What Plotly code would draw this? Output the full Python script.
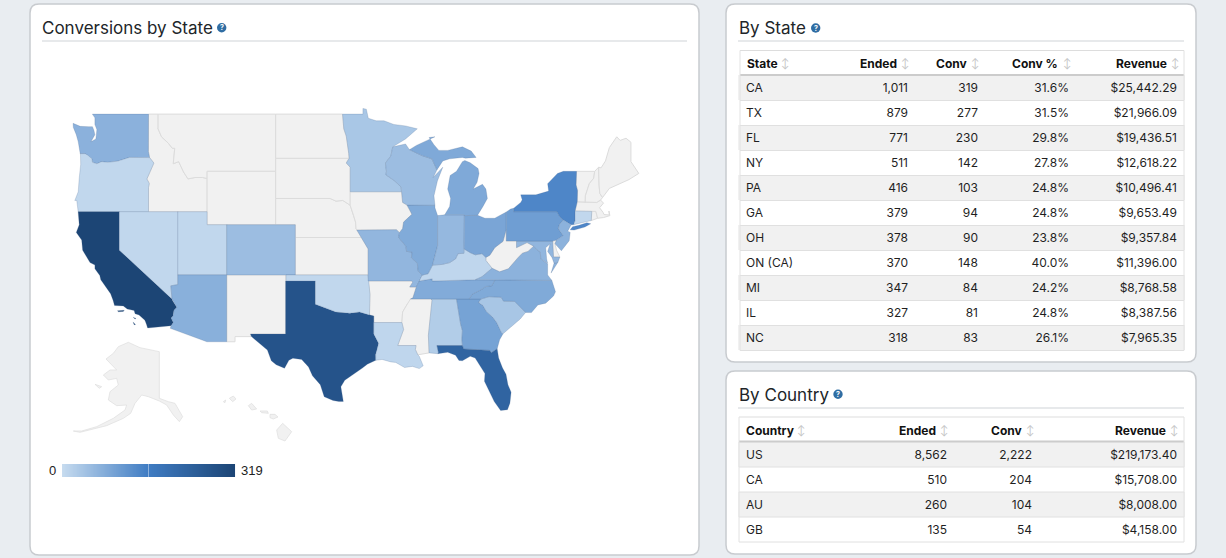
import math

import plotly.graph_objects as go
from plotly.colors import sample_colorscale

# table by state
state_columns = ["State", "Ended", "Conv", "Conv %", "Revenue"]
state_codes = ["CA", "TX", "FL", "NY", "PA", "GA", "OH", "ON (CA)", "MI", "IL", "NC"]
state_ended = [1011, 879, 771, 511, 416, 379, 378, 370, 347, 327, 318]
state_conv = [319, 277, 230, 142, 103, 94, 90, 148, 84, 81, 83]
state_pct = [31.6, 31.5, 29.8, 27.8, 24.8, 24.8, 23.8, 40.0, 24.2, 24.8, 26.1]
state_revenue = [25442.29, 21966.09, 19436.51, 12618.22, 10496.41, 9653.49, 9357.84, 11396.00, 8768.58, 8387.56, 7965.35]

# table by country
country_columns = ["Country", "Ended", "Conv", "Revenue"]
country_codes = ["US", "CA", "AU", "GB"]
country_ended = [8562, 510, 260, 135]
country_conv = [2222, 204, 104, 54]
country_revenue = [219173.40, 15708.00, 8008.00, 4158.00]

# the states below the table are estimated from their shade on the map
map_states = ["CA", "TX", "FL", "NY", "PA", "GA", "OH", "MI", "IL", "NC", "WA", "AZ", "CO", "MN", "WI", "IN",
              "MO", "TN", "VA", "NJ", "MD", "AL", "SC", "OR", "NV", "UT", "OK", "LA", "KY", "CT"]
map_conv = [319, 277, 230, 142, 103, 94, 90, 84, 81, 83, 70, 72, 50, 34, 50, 58,
            62, 80, 68, 68, 62, 24, 36, 6, 6, 6, 6, 8, 8, 6]
legend_values = list(range(0, 320))

COLORSCALE = [[0, "#c6dbef"], [0.5, "#3f7cc3"], [1, "#1c4575"]]
NO_DATA = "#f1f1f1"
FONT = "Inter, Roboto, sans-serif"

# state outlines in lon/lat
OUTLINES = {
    "WA": [[(-122.76, 49), (-117.03, 49), (-117.04, 46.42), (-116.92, 45.99), (-118.98, 46), (-119.3, 45.93), (-120.2, 45.73),
            (-121.2, 45.65), (-121.8, 45.7), (-122.3, 45.55), (-122.75, 45.65), (-122.8, 45.9), (-123.2, 46.15), (-123.5, 46.27),
            (-124, 46.27), (-124.07, 46.7), (-124.1, 46.95), (-124.2, 47.1), (-124.4, 47.6), (-124.7, 48.1), (-124.73, 48.38),
            (-124, 48.17), (-123.1, 48.15), (-122.75, 48.15), (-122.6, 47.9), (-122.5, 47.6), (-122.9, 47.1), (-122.4, 47.3),
            (-122.35, 47.6), (-122.3, 47.95), (-122.5, 48.3), (-122.5, 48.75)]],
    "OR": [[(-124, 46.27), (-123.5, 46.27), (-123.2, 46.15), (-122.8, 45.9), (-122.75, 45.65), (-122.3, 45.55), (-121.8, 45.7),
            (-121.2, 45.65), (-120.2, 45.73), (-119.3, 45.93), (-118.98, 46), (-116.92, 45.99), (-116.48, 45.6), (-116.85, 45),
            (-117.2, 44.44), (-117.03, 44.23), (-116.95, 44.1), (-117.03, 43.83), (-117.03, 42), (-124.21, 42), (-124.35, 42.85),
            (-124.55, 42.84), (-124.2, 43.5), (-124.1, 44.5), (-123.95, 45.5), (-123.97, 46.2)]],
    "CA": [[(-124.21, 42), (-120, 42), (-120, 39), (-114.63, 35), (-114.57, 34.85), (-114.14, 34.3), (-114.43, 34.05), (-114.53, 33.55),
            (-114.72, 33.4), (-114.5, 33), (-114.72, 32.72), (-117.12, 32.53), (-117.25, 32.87), (-117.4, 33.2), (-118, 33.65),
            (-118.4, 33.75), (-118.5, 34.03), (-119.2, 34.15), (-119.6, 34.42), (-120.5, 34.45), (-120.65, 34.9), (-120.9, 35.45),
            (-121.9, 36.6), (-122, 36.95), (-122.5, 37.5), (-122.5, 37.8), (-123, 38), (-123.75, 39), (-123.85, 39.8), (-124.4, 40.4),
            (-124.1, 41), (-124.2, 41.75)],
           [(-120.2, 34), (-119.5, 34.05), (-119.6, 33.95), (-120.1, 33.92)],
           [(-118.6, 33.45), (-118.3, 33.35), (-118.4, 33.3)],
           [(-118.6, 33.05), (-118.35, 32.82), (-118.5, 32.82)]],
    "NV": [[(-120, 42), (-114.04, 42), (-114.04, 36.2), (-114.75, 36.1), (-114.63, 35), (-120, 39)]],
    "ID": [[(-117.03, 49), (-116.05, 49), (-116.05, 48), (-115.7, 47.45), (-115, 47), (-114.6, 46.65), (-114.35, 46.65), (-114.5, 45.55),
            (-113.95, 45.7), (-113.45, 44.95), (-113, 44.45), (-112.3, 44.55), (-111.5, 44.55), (-111.05, 44.48), (-111.05, 42),
            (-117.03, 42), (-117.03, 43.83), (-116.95, 44.1), (-117.03, 44.23), (-117.2, 44.44), (-116.85, 45), (-116.48, 45.6),
            (-116.92, 45.99), (-117.04, 46.42)]],
    "MT": [[(-116.05, 49), (-104.05, 49), (-104.05, 45), (-111.05, 45), (-111.05, 44.48), (-111.5, 44.55), (-112.3, 44.55), (-113, 44.45),
            (-113.45, 44.95), (-113.95, 45.7), (-114.5, 45.55), (-114.35, 46.65), (-114.6, 46.65), (-115, 47), (-115.7, 47.45), (-116.05, 48)]],
    "WY": [[(-111.05, 45), (-104.05, 45), (-104.05, 41), (-111.05, 41)]],
    "UT": [[(-114.04, 42), (-111.05, 42), (-111.05, 41), (-109.05, 41), (-109.05, 37), (-114.04, 37)]],
    "CO": [[(-109.05, 41), (-102.05, 41), (-102.05, 37), (-109.05, 37)]],
    "AZ": [[(-114.04, 37), (-109.05, 37), (-109.05, 31.33), (-111.07, 31.33), (-114.81, 32.5), (-114.72, 32.72), (-114.5, 33), (-114.72, 33.4),
            (-114.53, 33.55), (-114.43, 34.05), (-114.14, 34.3), (-114.57, 34.85), (-114.63, 35), (-114.75, 36.1), (-114.04, 36.2)]],
    "NM": [[(-109.05, 37), (-103, 37), (-103.04, 32), (-106.62, 32), (-106.53, 31.78), (-108.2, 31.78), (-108.2, 31.33), (-109.05, 31.33)]],
    "TX": [[(-103.04, 36.5), (-100, 36.5), (-100, 34.56), (-99.2, 34.3), (-98.5, 34.1), (-97.9, 33.9), (-97.2, 33.85), (-96.5, 33.8), (-95.5, 33.9),
            (-94.48, 33.64), (-94.04, 33.55), (-94.04, 32), (-93.55, 31.2), (-93.7, 30.6), (-93.85, 30.2), (-93.84, 29.69), (-94.7, 29.35),
            (-95.2, 29), (-96, 28.5), (-97, 27.9), (-97.4, 27.3), (-97.15, 25.96), (-97.6, 25.95), (-98.2, 26.05), (-99.1, 26.4), (-99.5, 27.5),
            (-100.3, 28.3), (-100.7, 29.1), (-101.4, 29.77), (-102.3, 29.88), (-102.7, 29.7), (-103.15, 28.98), (-104, 29.3), (-104.5, 29.65),
            (-104.9, 30.6), (-106, 31.4), (-106.53, 31.78), (-106.62, 32), (-103.04, 32)]],
    "OK": [[(-103, 37), (-94.62, 37), (-94.43, 35.4), (-94.48, 33.64), (-95.5, 33.9), (-96.5, 33.8), (-97.2, 33.85), (-97.9, 33.9), (-98.5, 34.1),
            (-99.2, 34.3), (-100, 34.56), (-100, 36.5), (-103, 36.5)]],
    "KS": [[(-102.05, 40), (-95.3, 40), (-94.62, 39.1), (-94.62, 37), (-102.05, 37)]],
    "NE": [[(-104.05, 43), (-98.5, 43), (-97.9, 42.8), (-97.2, 42.85), (-96.45, 42.49), (-96.1, 41.7), (-95.9, 41.2), (-95.85, 40.7), (-95.3, 40),
            (-102.05, 40), (-102.05, 41), (-104.05, 41)]],
    "SD": [[(-104.05, 45.94), (-96.56, 45.94), (-96.85, 45.6), (-96.45, 45.3), (-96.45, 42.49), (-97.2, 42.85), (-97.9, 42.8), (-98.5, 43), (-104.05, 43)]],
    "ND": [[(-104.05, 49), (-97.23, 49), (-97.1, 48), (-96.85, 47.5), (-96.6, 46.3), (-96.56, 45.94), (-104.05, 45.94)]],
    "MN": [[(-97.23, 49), (-95.15, 49), (-95.15, 49.38), (-94.8, 49.33), (-94.6, 48.72), (-93.8, 48.55), (-93, 48.55), (-92, 48.3), (-90.8, 48.2),
            (-89.6, 48), (-90.8, 47.3), (-92.1, 46.75), (-92.3, 46.1), (-92.85, 45.6), (-92.75, 45), (-92.8, 44.75), (-91.9, 44.3), (-91.25, 43.85),
            (-91.22, 43.5), (-96.45, 43.5), (-96.45, 45.3), (-96.85, 45.6), (-96.56, 45.94), (-96.6, 46.3), (-96.85, 47.5), (-97.1, 48)]],
    "IA": [[(-96.45, 43.5), (-91.22, 43.5), (-91.1, 42.7), (-90.65, 42.5), (-90.15, 41.8), (-91, 41.2), (-91.1, 40.7), (-91.42, 40.38), (-91.73, 40.61),
            (-95.77, 40.58), (-95.85, 40.7), (-95.9, 41.2), (-96.1, 41.7), (-96.45, 42.49)]],
    "MO": [[(-95.77, 40.58), (-91.73, 40.61), (-91.42, 40.38), (-91.5, 40), (-90.75, 39.3), (-90.7, 38.9), (-90.12, 38.85), (-90.2, 38.4), (-89.6, 37.95),
            (-89.5, 37.3), (-89.1, 36.98), (-89.4, 36.5), (-89.7, 36), (-90.37, 36), (-90.07, 36.4), (-90.15, 36.5), (-94.62, 36.5), (-94.62, 39.1), (-95.3, 40)]],
    "AR": [[(-94.62, 36.5), (-90.15, 36.5), (-90.07, 36.4), (-90.37, 36), (-89.7, 36), (-90.05, 35.1), (-90.6, 34.6), (-91.1, 33.9), (-91.17, 33),
            (-94.04, 33), (-94.04, 33.55), (-94.48, 33.64), (-94.43, 35.4)]],
    "LA": [[(-94.04, 33), (-91.17, 33), (-91, 32.4), (-91.6, 31), (-89.73, 31), (-89.8, 30.65), (-89.55, 30.18), (-89.4, 30.05), (-89, 29.2), (-89.4, 28.95),
            (-90.1, 29.15), (-90.9, 29.05), (-91.8, 29.5), (-92.3, 29.55), (-93.2, 29.77), (-93.84, 29.69), (-93.85, 30.2), (-93.7, 30.6), (-93.55, 31.2), (-94.04, 32)]],
    "MS": [[(-90.3, 35), (-88.2, 35), (-88.1, 34.9), (-88.47, 31.9), (-88.4, 30.35), (-89.55, 30.18), (-89.8, 30.65), (-89.73, 31), (-91.6, 31), (-91, 32.4),
            (-91.17, 33), (-91.1, 33.9), (-90.6, 34.6)]],
    "AL": [[(-88.2, 35), (-85.6, 35), (-85.18, 32.87), (-85, 32.3), (-85.05, 31.55), (-85, 31), (-87.6, 31), (-87.45, 30.4), (-87.5, 30.28), (-88.4, 30.35),
            (-88.47, 31.9), (-88.1, 34.9)]],
    "GA": [[(-85.6, 35), (-83.1, 35), (-83.35, 34.7), (-82.9, 34.45), (-82.55, 33.95), (-81.9, 33.45), (-81.5, 33), (-81, 32.1), (-80.85, 32.03), (-81.2, 31.5),
            (-81.45, 30.72), (-82.05, 30.36), (-82.2, 30.57), (-84.86, 30.7), (-85, 31), (-85.05, 31.55), (-85, 32.3), (-85.18, 32.87)]],
    "FL": [[(-87.6, 31), (-85, 31), (-84.86, 30.7), (-82.2, 30.57), (-82.05, 30.36), (-81.45, 30.72), (-81.3, 29.9), (-80.9, 29), (-80.55, 28.45), (-80.35, 27.5),
            (-80.03, 26.8), (-80.15, 25.8), (-80.4, 25.2), (-81.1, 25.12), (-81.75, 25.95), (-82.2, 26.8), (-82.75, 27.8), (-82.7, 28.5), (-83.1, 29.1), (-83.7, 29.9),
            (-84.2, 30.05), (-85, 29.65), (-85.35, 29.68), (-85.7, 30.15), (-86.5, 30.4), (-87.5, 30.28), (-87.45, 30.4)]],
    "SC": [[(-83.1, 35), (-82.3, 35.2), (-81.05, 35.15), (-80.8, 34.82), (-79.67, 34.8), (-78.55, 33.86), (-79.1, 33.3), (-79.9, 32.7), (-80.85, 32.03), (-81, 32.1),
            (-81.5, 33), (-81.9, 33.45), (-82.55, 33.95), (-82.9, 34.45), (-83.35, 34.7)]],
    "NC": [[(-84.32, 35), (-83.1, 35), (-82.3, 35.2), (-81.05, 35.15), (-80.8, 34.82), (-79.67, 34.8), (-78.55, 33.86), (-77.95, 33.85), (-77.3, 34.5), (-76.5, 34.65),
            (-75.7, 35.25), (-75.5, 35.6), (-75.87, 36.55), (-81.68, 36.59), (-82, 36.1), (-82.6, 36.05), (-83.1, 35.77), (-84, 35.4)]],
    "TN": [[(-90.3, 35), (-88.2, 35), (-85.6, 35), (-84.32, 35), (-84, 35.4), (-83.1, 35.77), (-82.6, 36.05), (-82, 36.1), (-81.68, 36.59), (-83.68, 36.6),
            (-88.07, 36.5), (-88.07, 36.68), (-89.4, 36.5), (-89.7, 36), (-90.05, 35.1)]],
    "KY": [[(-89.4, 36.5), (-88.07, 36.68), (-88.07, 36.5), (-83.68, 36.6), (-83, 36.85), (-81.97, 37.54), (-82.6, 38.17), (-82.6, 38.42), (-83, 38.72), (-83.7, 38.63),
            (-84.2, 38.8), (-84.82, 39.1), (-84.85, 38.75), (-85.45, 38.72), (-85.7, 38.3), (-86.3, 38), (-87.1, 37.85), (-88.05, 37.8), (-88.5, 37.1), (-89.1, 36.98)]],
    "IL": [[(-87.8, 42.49), (-90.65, 42.5), (-90.15, 41.8), (-91, 41.2), (-91.1, 40.7), (-91.42, 40.38), (-91.5, 40), (-90.75, 39.3), (-90.7, 38.9), (-90.12, 38.85),
            (-90.2, 38.4), (-89.6, 37.95), (-89.5, 37.3), (-89.1, 36.98), (-88.5, 37.1), (-88.05, 37.8), (-87.95, 38.1), (-87.53, 39.35), (-87.53, 41.7), (-87.8, 42.3)]],
    "IN": [[(-87.53, 41.7), (-87.2, 41.75), (-86.8, 41.76), (-84.8, 41.76), (-84.82, 39.1), (-84.85, 38.75), (-85.45, 38.72), (-85.7, 38.3), (-86.3, 38), (-87.1, 37.85),
            (-88.05, 37.8), (-87.95, 38.1), (-87.53, 39.35)]],
    "OH": [[(-84.8, 41.7), (-83.45, 41.73), (-82.7, 41.5), (-81.7, 41.5), (-80.52, 41.98), (-80.52, 40.64), (-80.85, 39.7), (-81.7, 39.2), (-82.2, 38.6), (-82.6, 38.42),
            (-83, 38.72), (-83.7, 38.63), (-84.2, 38.8), (-84.82, 39.1)]],
    "WV": [[(-80.52, 40.64), (-80.52, 39.72), (-79.48, 39.72), (-79.48, 39.2), (-78.4, 39.6), (-77.72, 39.32), (-78.3, 38.9), (-78.87, 38.76), (-79.3, 38.42), (-80.3, 37.5),
            (-81.2, 37.25), (-81.97, 37.54), (-82.6, 38.17), (-82.6, 38.42), (-82.2, 38.6), (-81.7, 39.2), (-80.85, 39.7)]],
    "VA": [[(-83.68, 36.6), (-81.68, 36.59), (-75.87, 36.55), (-76.3, 37), (-76.3, 37.6), (-76.3, 37.9), (-77, 38.3), (-77.05, 38.85), (-77.5, 39.1), (-77.72, 39.32),
            (-78.3, 38.9), (-78.87, 38.76), (-79.3, 38.42), (-80.3, 37.5), (-81.2, 37.25), (-81.97, 37.54), (-83, 36.85)],
           [(-75.95, 37.15), (-75.65, 37.95), (-75.25, 38.03)]],
    "MD": [[(-79.48, 39.72), (-75.79, 39.72), (-75.7, 38.46), (-75.05, 38.45), (-75.25, 38.03), (-75.65, 37.95), (-75.85, 38.4), (-76.3, 38.9), (-76.05, 39.5), (-76.5, 39.2),
            (-76.4, 38.3), (-76.3, 37.95), (-77, 38.3), (-77.05, 38.85), (-77.5, 39.1), (-77.72, 39.32), (-78.4, 39.6), (-79.48, 39.2)]],
    "DE": [[(-75.79, 39.72), (-75.4, 39.8), (-75.55, 39.5), (-75.4, 39), (-75.05, 38.45), (-75.7, 38.46)]],
    "PA": [[(-80.52, 41.98), (-80.08, 42.2), (-79.76, 42.27), (-79.76, 42), (-75.35, 42), (-75.05, 41.6), (-74.7, 41.36), (-75.13, 40.98), (-75.2, 40.68), (-74.72, 40.15),
            (-75.4, 39.8), (-75.79, 39.72), (-80.52, 39.72)]],
    "NY": [[(-79.76, 42.27), (-79.05, 42.7), (-78.9, 42.9), (-79.05, 43.27), (-77.5, 43.27), (-76.2, 43.55), (-76.3, 44.1), (-75.3, 44.85), (-74.7, 45), (-73.35, 45), (-73.4, 44),
            (-73.25, 43.6), (-73.28, 42.75), (-73.5, 42.05), (-73.5, 41.3), (-73.65, 41), (-73.9, 41), (-74.7, 41.36), (-75.05, 41.6), (-75.35, 42), (-79.76, 42)],
           [(-74, 40.6), (-73.75, 40.85), (-73.1, 40.95), (-72.3, 41.15), (-71.9, 41.07), (-72.5, 40.82), (-73.6, 40.58)]],
    "NJ": [[(-74.7, 41.36), (-73.9, 41), (-74.25, 40.5), (-74, 40.4), (-74.1, 39.75), (-74.9, 38.95), (-75.55, 39.5), (-75.4, 39.8), (-74.72, 40.15), (-75.2, 40.68), (-75.13, 40.98)]],
    "CT": [[(-73.5, 42.05), (-71.8, 42.02), (-71.85, 41.32), (-73.65, 41), (-73.5, 41.3)]],
    "RI": [[(-71.8, 42.02), (-71.38, 42.02), (-71.2, 41.5), (-71.85, 41.32)]],
    "MA": [[(-73.5, 42.05), (-73.28, 42.75), (-71.3, 42.7), (-70.9, 42.88), (-70.6, 42.65), (-71, 42.3), (-70.65, 41.95), (-70.55, 41.78), (-70, 41.75), (-70.05, 42.05),
            (-69.95, 41.7), (-70.6, 41.55), (-71.2, 41.5), (-71.38, 42.02), (-71.8, 42.02)]],
    "VT": [[(-73.35, 45), (-71.5, 45), (-71.6, 44.5), (-72.05, 44.1), (-72.45, 43.2), (-72.46, 42.73), (-73.28, 42.75), (-73.25, 43.6), (-73.4, 44)]],
    "NH": [[(-71.5, 45), (-71.1, 45.3), (-71.05, 44), (-70.98, 43.38), (-70.7, 43.07), (-70.9, 42.88), (-71.3, 42.7), (-72.46, 42.73), (-72.45, 43.2), (-72.05, 44.1), (-71.6, 44.5)]],
    "ME": [[(-71.1, 45.3), (-70.85, 45.25), (-70.4, 45.75), (-70, 46.7), (-69.25, 47.45), (-68.9, 47.2), (-68.3, 47.35), (-67.8, 47.07), (-67.8, 45.7), (-67.45, 45.3), (-67, 44.85),
            (-68, 44.4), (-69, 44.1), (-70, 43.75), (-70.7, 43.07), (-70.98, 43.38), (-71.05, 44)]],
    "WI": [[(-92.1, 46.75), (-90.8, 46.95), (-90.4, 46.55), (-89.1, 46.13), (-88.1, 45.9), (-87.8, 45.35), (-87.6, 45.1), (-87.98, 44.55), (-87, 45.3), (-87.55, 44.3), (-87.9, 43.2),
            (-87.8, 42.49), (-90.65, 42.5), (-91.1, 42.7), (-91.22, 43.5), (-91.25, 43.85), (-91.9, 44.3), (-92.8, 44.75), (-92.75, 45), (-92.85, 45.6), (-92.3, 46.1)]],
    "MI": [[(-84.8, 41.7), (-84.8, 41.76), (-86.8, 41.76), (-86.3, 42.4), (-86.2, 43), (-86.5, 43.7), (-86.25, 44.7), (-85.6, 45), (-85, 45.7), (-84.75, 45.78), (-84.2, 45.62), (-83.4, 45.2),
            (-83.3, 44.85), (-83.5, 44.2), (-83.9, 43.7), (-83.3, 43.95), (-82.95, 44.05), (-82.6, 43.7), (-82.45, 43), (-82.9, 42.4), (-83.15, 42.05), (-83.45, 41.73)],
           [(-90.4, 46.55), (-89.1, 46.13), (-88.1, 45.9), (-87.8, 45.35), (-87.6, 45.1), (-87, 45.75), (-86.3, 45.9), (-85, 46), (-84.7, 45.95), (-83.6, 46), (-84.1, 46.45), (-85, 46.75),
            (-86.5, 46.5), (-87.4, 46.5), (-87.9, 46.9), (-88.4, 47.4), (-87.8, 47.45), (-88.6, 47.2), (-89.7, 46.85)]],
}

# Alaska and Hawaii are not on the same projection, they are traced off the picture as (page x - 60) * 3, (page y - 335) * 3
INSETS = [
    [(205, 22), (240, 38), (298, 50), (298, 190), (325, 200), (345, 205), (368, 245), (358, 260), (340, 240), (320, 210), (298, 198), (265, 185), (245, 180),
     (225, 205), (212, 235), (190, 250), (140, 272), (90, 285), (60, 292), (40, 288), (65, 288), (110, 275), (160, 250), (195, 225), (200, 210), (170, 212),
     (145, 195), (150, 170), (175, 150), (170, 130), (145, 135), (130, 120), (150, 105), (170, 105), (155, 90), (138, 72), (160, 55), (175, 35)],
    [(105, 148), (125, 155), (118, 160)],
    [(490, 200), (497, 195), (495, 203)],
    [(508, 190), (520, 183), (528, 192), (518, 200)],
    [(565, 212), (575, 205), (590, 222), (575, 225)],
    [(600, 228), (622, 228), (625, 235), (605, 233)],
    [(630, 238), (645, 238), (654, 246), (640, 252), (630, 248)],
    [(650, 285), (668, 265), (695, 290), (675, 318), (655, 310)],
]


def merc(lat):
    return math.degrees(math.log(math.tan(math.radians(45 + lat / 2))))


def to_px(lon, lat):
    return 226.7 + (lon + 109.05) * 9.8, 224.7 - (merc(lat) - merc(41)) * 9.75


def polys_to_xy(polys):
    xs, ys = [], []
    for poly in polys:
        for x, y in poly + poly[:1]:
            xs.append(x)
            ys.append(y)
        xs.append(None)
        ys.append(None)
    return xs, ys


def rounded(x0, y0, x1, y1, r=9):
    return (f"M{x0 + r},{y0} L{x1 - r},{y0} Q{x1},{y0} {x1},{y0 + r} L{x1},{y1 - r} Q{x1},{y1} {x1 - r},{y1} "
            f"L{x0 + r},{y1} Q{x0},{y1} {x0},{y1 - r} L{x0},{y0 + r} Q{x0},{y0} {x0 + r},{y0} Z")


def table_trace(box, widths, rows):
    # the header row stays blank, labels go on as annotations: bold text makes plotly's row too tall
    n = len(rows)
    fills = ["#f1f1f1" if i % 2 == 0 else "#ffffff" for i in range(len(rows[0]))]
    x0, y0, x1, y1 = box
    return go.Table(domain=dict(x=[x0 / 1226, x1 / 1226], y=[1 - y1 / 558, 1 - y0 / 558]), columnwidth=widths,
                    header=dict(values=[""] * n, height=25, fill_color="#ffffff", line_width=0),
                    cells=dict(values=rows, align=["left"] + ["right"] * (n - 1), height=25, line_width=0,
                               font=dict(family=FONT, size=12, color="#1f1f1f"), fill_color=[fills] * n))


def header_labels(columns, y, left_x, right_xs, arrow_xs):
    for i, name in enumerate(columns):
        if i == 0:
            fig.add_annotation(x=left_x, y=y, text=f"<b>{name}</b>", xanchor="left", showarrow=False,
                               font=dict(family=FONT, size=12, color="#111111"))
        else:
            fig.add_annotation(x=right_xs[i - 1], y=y, text=f"<b>{name}</b>", xanchor="right", showarrow=False,
                               font=dict(family=FONT, size=12, color="#111111"))
        fig.add_annotation(x=arrow_xs[i], y=y, text="↕", showarrow=False, font=dict(family=FONT, size=10, color="#c4c4c4"))


fig = go.Figure()

# grey states first so that the coloured ones sit on top
values = dict(zip(map_states, map_conv))
for code in sorted(OUTLINES, key=lambda c: c in values):
    polys = [[to_px(lon, lat) for lon, lat in poly] for poly in OUTLINES[code]]
    xs, ys = polys_to_xy(polys)
    if code in values:
        color = sample_colorscale(COLORSCALE, values[code] / 319)[0]
        line = dict(color="rgba(70,100,140,0.3)", width=0.7)
    else:
        color = NO_DATA
        line = dict(color="#dcdcdc", width=1)
    fig.add_trace(go.Scatter(x=xs, y=ys, mode="lines", fill="toself", fillcolor=color, line=line,
                             name=code, showlegend=False, hoverinfo="name"))

xs, ys = polys_to_xy([[(60 + x / 3, 335 + y / 3) for x, y in poly] for poly in INSETS])
fig.add_trace(go.Scatter(x=xs, y=ys, mode="lines", fill="toself", fillcolor=NO_DATA,
                         line=dict(color="#dedede", width=0.7), showlegend=False, hoverinfo="skip"))

# legend bar
fig.add_trace(go.Heatmap(z=[legend_values], x0=62.3, dx=173 / len(legend_values), y0=470.5, dy=13,
                         colorscale=COLORSCALE, zmin=0, zmax=319, showscale=False, hoverinfo="skip"))

fig.add_trace(table_trace((738, 50, 1185, 352), [92, 86, 70, 91, 108],
                          [state_codes, [f"{v:,}" for v in state_ended], [f"{v:,}" for v in state_conv],
                           [f"{v:.1f}%" for v in state_pct], [f"${v:,.2f}" for v in state_revenue]]))
fig.add_trace(table_trace((738, 417, 1185, 545), [130, 87, 85, 145],
                          [country_codes, [f"{v:,}" for v in country_ended], [f"{v:,}" for v in country_conv],
                           [f"${v:,.2f}" for v in country_revenue]]))

header_labels(state_columns, 63, 745, [899, 969, 1060, 1169], [785, 905, 975, 1066.5, 1175])
header_labels(country_columns, 430, 744, [938, 1023.5, 1168], [800.5, 944, 1030, 1174])

# cards
for box in [(30, 4, 699, 555), (726, 4, 1196, 362), (726, 371, 1196, 554)]:
    fig.add_shape(type="path", path=rounded(*box), fillcolor="white", line=dict(color="#c8cbcf", width=1.5), layer="below")

# title rules
for x0, x1, y in [(42, 687, 41), (738, 1184, 41), (738, 1184, 408)]:
    fig.add_shape(type="line", x0=x0, x1=x1, y0=y, y1=y, line=dict(color="#dfe2e5", width=1.5), layer="below")

titles = [("Conversions by State", 40, 28, 221.7, 27.7), ("By State", 737, 28, 815.7, 28), ("By Country", 737, 395, 838, 394.3)]
for text, x, y, icon_x, icon_y in titles:
    fig.add_annotation(x=x, y=y, text=text, xanchor="left", yanchor="middle", showarrow=False,
                       font=dict(family=FONT, size=17, color="#212529"))
    fig.add_shape(type="circle", x0=icon_x - 4.7, x1=icon_x + 4.7, y0=icon_y - 4.7, y1=icon_y + 4.7, fillcolor="#2f6da3", line_width=0)
    fig.add_annotation(x=icon_x, y=icon_y, text="<b>?</b>", showarrow=False, font=dict(family=FONT, size=7, color="white"))

# table rules, drawn over the table cells
for x0, x1, top, rows in [(740, 1184, 50.5, len(state_codes)), (739, 1184, 417, len(country_codes))]:
    fig.add_shape(type="line", x0=x0, x1=x1, y0=top, y1=top, line=dict(color="#dddddd", width=1), layer="above")
    fig.add_shape(type="line", x0=x0, x1=x1, y0=top + 24.5, y1=top + 24.5, line=dict(color="#cccccc", width=2), layer="above")
    for i in range(1, rows + 1):
        y = top + 25 + 25 * i
        fig.add_shape(type="line", x0=x0, x1=x1, y0=y, y1=y, line=dict(color="#e0e0e0", width=1), layer="above")
    for x in [x0, x1]:
        fig.add_shape(type="line", x0=x, x1=x, y0=top, y1=top + 25 + 25 * rows, line=dict(color="#e2e2e2", width=1), layer="above")

# legend labels
fig.add_shape(type="line", x0=148.5, x1=148.5, y0=464, y1=477, line=dict(color="#8fb2dc", width=1), layer="above")
fig.add_annotation(x=52, y=470.5, text="0", showarrow=False, font=dict(family="Liberation Sans", size=13, color="#222222"))
fig.add_annotation(x=239, y=470.5, text="319", xanchor="left", showarrow=False, font=dict(family="Liberation Sans", size=13, color="#222222"))

fig.update_layout(width=1226, height=558, margin=dict(l=0, r=0, t=0, b=0), paper_bgcolor="#e9edf1", plot_bgcolor="rgba(0,0,0,0)",
                  xaxis=dict(range=[0, 1226], visible=False, fixedrange=True), yaxis=dict(range=[558, 0], visible=False, fixedrange=True))
fig.write_html("out.html", config=dict(displayModeBar=False), post_script="document.body.style.margin='0';")
